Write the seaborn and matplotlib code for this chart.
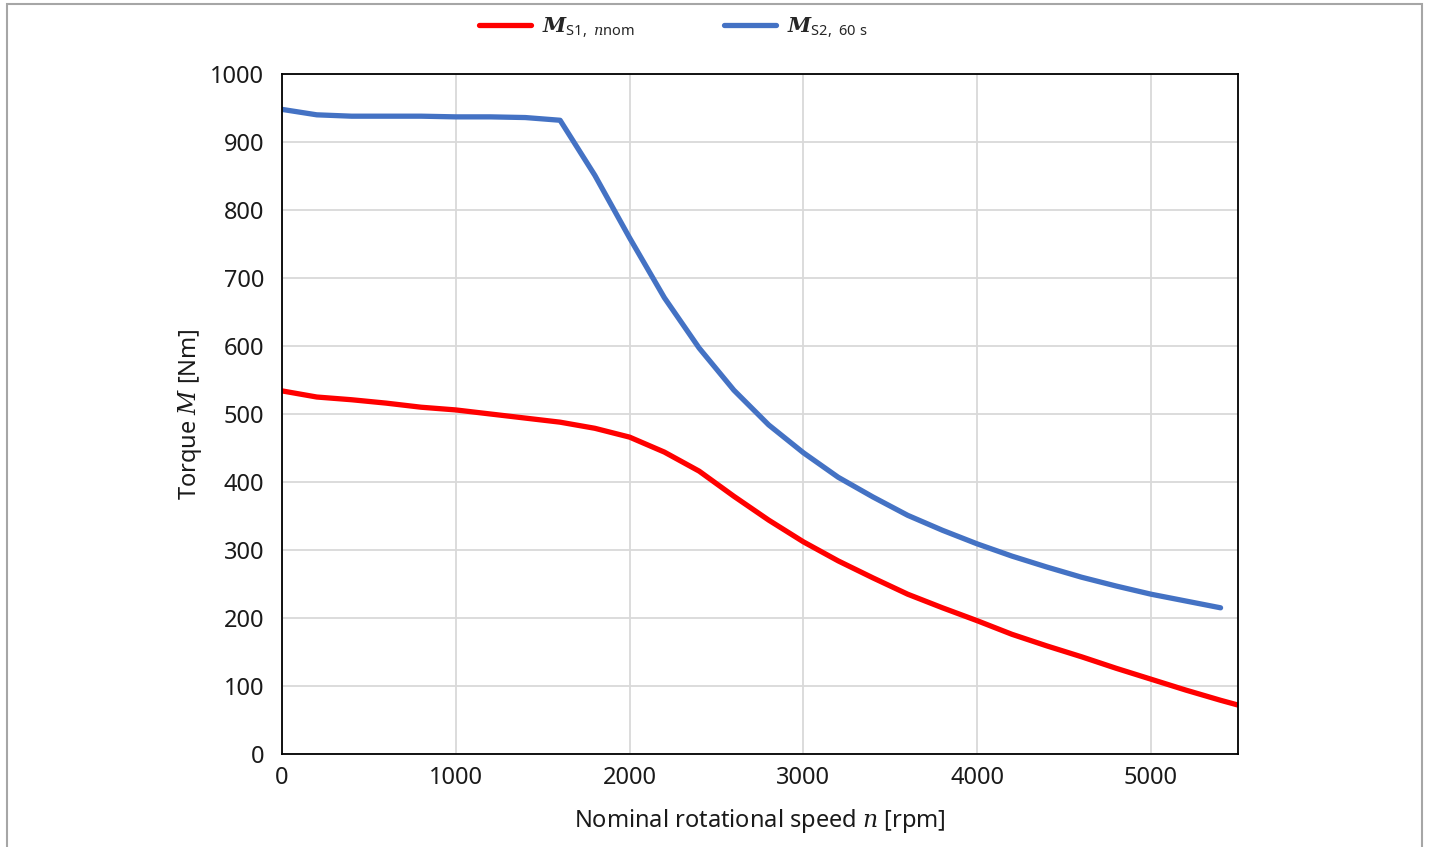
import pandas as pd
import seaborn as sns
import matplotlib.pyplot as plt
from matplotlib.patches import Rectangle

# speeds in rpm
speed = [0, 200, 400, 600, 800, 1000, 1200, 1400, 1600, 1800, 2000, 2200, 2400, 2600,
         2800, 3000, 3200, 3400, 3600, 3800, 4000, 4200, 4400, 4600, 4800, 5000, 5200, 5400]
# torque S1 (continuous), Nm
torque_s1 = [534, 525, 521, 516, 510, 506, 500, 494, 488, 479, 466, 444, 416, 379,
             344, 312, 284, 259, 235, 215, 196, 176, 159, 143, 126, 110, 94, 79]
speed_s1_end = [5500]
torque_s1_end = [72]
# torque S2 60 s, Nm
torque_s2 = [948, 940, 938, 938, 938, 937, 937, 936, 932, 851, 759, 671, 597, 535,
             484, 443, 407, 378, 351, 329, 309, 291, 275, 260, 247, 235, 225, 215]

s1 = pd.DataFrame({'n': speed + speed_s1_end, 'M': torque_s1 + torque_s1_end})
s2 = pd.DataFrame({'n': speed, 'M': torque_s2})

sns.set_style('white')
plt.rcParams['font.family'] = ['Noto Sans', 'DejaVu Sans']
plt.rcParams['mathtext.fontset'] = 'custom'
plt.rcParams['mathtext.rm'] = 'Noto Sans'
plt.rcParams['mathtext.it'] = 'DejaVu Serif:italic'
plt.rcParams['mathtext.bf'] = 'DejaVu Serif:italic:bold'

fig = plt.figure(figsize=(14.3, 8.47), dpi=100)
ax = fig.add_axes([0.1972, 0.1098, 0.6685, 0.8028])

sns.lineplot(x='n', y='M', data=s1, color='#FF0000', linewidth=3.8, ax=ax,
             label=r'$\mathbf{M}_{\mathrm{S1,}\ \mathit{n}\mathrm{nom}}$', solid_capstyle='round')
sns.lineplot(x='n', y='M', data=s2, color='#4472C4', linewidth=3.8, ax=ax,
             label=r'$\mathbf{M}_{\mathrm{S2,\ 60\ s}}$', solid_capstyle='round')

ax.set_xlim(0, 5500)
ax.set_ylim(0, 1000)
ax.set_xticks(range(0, 5001, 1000))
ax.set_yticks(range(0, 1001, 100))
ax.grid(True, color='#D9D9D9', linewidth=1.3)
ax.set_axisbelow(True)
for sp in ax.spines.values():
    sp.set_color('black')
    sp.set_linewidth(1.3)
ax.tick_params(labelsize=17, length=0, colors='#1a1a1a')
ax.tick_params(axis='x', pad=9)
ax.tick_params(axis='y', pad=13)

ax.set_xlabel(r'Nominal rotational speed $n$ [rpm]', fontsize=17, color='#1a1a1a', labelpad=12)
ax.set_ylabel(r'Torque $M$ [Nm]', fontsize=17, color='#1a1a1a', labelpad=4)

ax.legend_.remove()
handles, labels = ax.get_legend_handles_labels()
fig.legend(handles, labels, loc='center', bbox_to_anchor=(0.471, 0.967), ncol=2,
           frameon=False, fontsize=15, handlelength=2.5, columnspacing=4.3,
           handletextpad=0.5)

# outer frame
fig.patches.append(Rectangle((7 / 1430, -0.05), 1415 / 1430, 1.05 - 4 / 847,
                             transform=fig.transFigure, fill=False,
                             edgecolor='#A6A6A6', linewidth=1.5))

fig.savefig('out.png', dpi=100)
